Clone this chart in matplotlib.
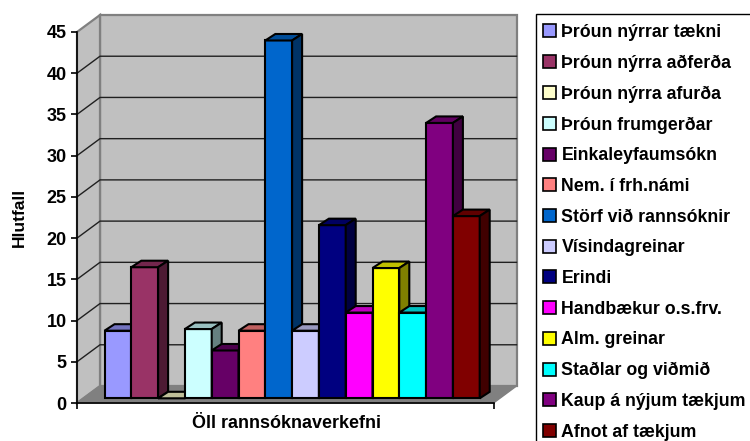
import matplotlib
matplotlib.use('Agg')
import matplotlib.pyplot as plt
from matplotlib.patches import Polygon, Patch, Rectangle
import matplotlib.colors as mcolors

categories = ['Þróun nýrrar tækni', 'Þróun nýrra aðferða', 'Þróun nýrra afurða',
              'Þróun frumgerðar', 'Einkaleyfaumsókn', 'Nem. í frh.námi',
              'Störf við rannsóknir', 'Vísindagreinar', 'Erindi',
              'Handbækur o.s.frv.', 'Alm. greinar', 'Staðlar og viðmið',
              'Kaup á nýjum tækjum', 'Afnot af tækjum']
values = [8.2, 15.9, 0, 8.4, 5.8, 8.2, 43.4, 8.2, 21.0, 10.4, 15.8, 10.4, 33.4, 22.1]
colors = ['#9999FF', '#993366', '#FFFFCC', '#CCFFFF', '#660066', '#FF8080', '#0066CC',
          '#CCCCFF', '#000080', '#FF00FF', '#FFFF00', '#00FFFF', '#800080', '#800000']
yticks = [0, 5, 10, 15, 20, 25, 30, 35, 40, 45]
xlabel = 'Öll rannsóknaverkefni'
ylabel = 'Hlutfall'

W, H = 750, 441
LEFT, RIGHT, BOTTOM, TOP = 77, 493.5, 403, 32
FONT = 'Liberation Sans'


def shade(color, factor):
    r, g, b = mcolors.to_rgb(color)
    return (r * factor, g * factor, b * factor)


fig = plt.figure(figsize=(W / 100, H / 100), dpi=100)
ax = fig.add_axes([LEFT / W, 1 - BOTTOM / H, (RIGHT - LEFT) / W, (BOTTOM - TOP) / H])

# one x unit is one bar, y is in percent
px_x = 26.8
px_y = (BOTTOM - TOP) / 45
ax.set_xlim(-(104.5 - LEFT) / px_x, (RIGHT - 104.5) / px_x)
ax.set_ylim(0, 45)

# depth of the wall and of the bars, in data units
wall_dx, wall_dy = 23 / px_x, 17 / px_y
bar_dx, bar_dy = 10 / px_x, 6.5 / px_y
base_y = (BOTTOM - 398.3) / px_y
x0, x1 = ax.get_xlim()
wall = '#C0C0C0'
edge = '#808080'

ax.add_patch(Polygon([(x0 + wall_dx, wall_dy), (x1 + wall_dx, wall_dy), (x1 + wall_dx, 45 + wall_dy),
                      (x0 + wall_dx, 45 + wall_dy)], fc=wall, ec=edge, lw=1.6, clip_on=False, zorder=1))
ax.add_patch(Polygon([(x0, 0), (x0 + wall_dx, wall_dy), (x0 + wall_dx, 45 + wall_dy), (x0, 45)],
                     fc=wall, ec=edge, lw=1.6, clip_on=False, zorder=1))
ax.add_patch(Polygon([(x0, 0), (x1, 0), (x1 + wall_dx, wall_dy), (x0 + wall_dx, wall_dy)],
                     fc='#808080', ec='#808080', lw=1, clip_on=False, zorder=1))

for t in yticks[1:-1]:
    ax.plot([x0, x0 + wall_dx, x1 + wall_dx], [t, t + wall_dy, t + wall_dy], color='#202020',
            lw=1.0, clip_on=False, zorder=2)

for i, (v, c) in enumerate(zip(values, colors)):
    z = 3 + i
    ax.bar(i, v, width=1, bottom=base_y, align='edge', color=c, edgecolor='black', lw=1.5,
           clip_on=False, zorder=z)
    top = base_y + v
    ax.add_patch(Polygon([(i, top), (i + 1, top), (i + 1 + bar_dx, top + bar_dy), (i + bar_dx, top + bar_dy)],
                         fc=shade(c, 0.75), ec='black', lw=1.5, clip_on=False, zorder=z))
    ax.add_patch(Polygon([(i + 1, base_y), (i + 1 + bar_dx, base_y + bar_dy), (i + 1 + bar_dx, top + bar_dy),
                          (i + 1, top)], fc=shade(c, 0.5), ec='black', lw=1.5, clip_on=False, zorder=z))

for s in ('top', 'right'):
    ax.spines[s].set_visible(False)
for s in ('left', 'bottom'):
    ax.spines[s].set_linewidth(1.2)
    ax.spines[s].set_zorder(30)
ax.patch.set_visible(False)
ax.set_yticks(yticks)
ax.set_xticks([x0, x1])
ax.set_xticklabels([])
ax.tick_params(axis='y', length=4.5, width=1.2, pad=3, labelsize=13)
ax.tick_params(axis='x', length=4.5, width=1.2)
for lab in ax.get_yticklabels():
    lab.set_fontfamily(FONT)
    lab.set_fontweight('bold')

fig.text(287 / W, 1 - 424 / H, xlabel, ha='center', va='center', family=FONT, weight='bold', fontsize=13)
fig.text(19.5 / W, 1 - 217 / H, ylabel, ha='center', va='center', rotation=90, family=FONT, weight='bold', fontsize=12.5)

# the legend box runs off the right and bottom of the picture
fig.add_artist(Rectangle((535.5 / W, -0.05), 0.4, 1.05 - 14 / H, transform=fig.transFigure,
                         fc='white', ec='black', lw=1.0))
handles = [Patch(fc=c, ec='black', lw=1.2) for c in colors]
leg = fig.legend(handles, categories, loc='upper left', bbox_to_anchor=(543 / W, 1 - 24 / H),
                 bbox_transform=fig.transFigure, borderaxespad=0, borderpad=0, labelspacing=0.77,
                 handlelength=0.75, handleheight=0.75, handletextpad=0.29, frameon=False,
                 prop={'family': FONT, 'weight': 'bold', 'size': 12.8})
leg.set_zorder(5)

fig.savefig('out.png', dpi=100)
